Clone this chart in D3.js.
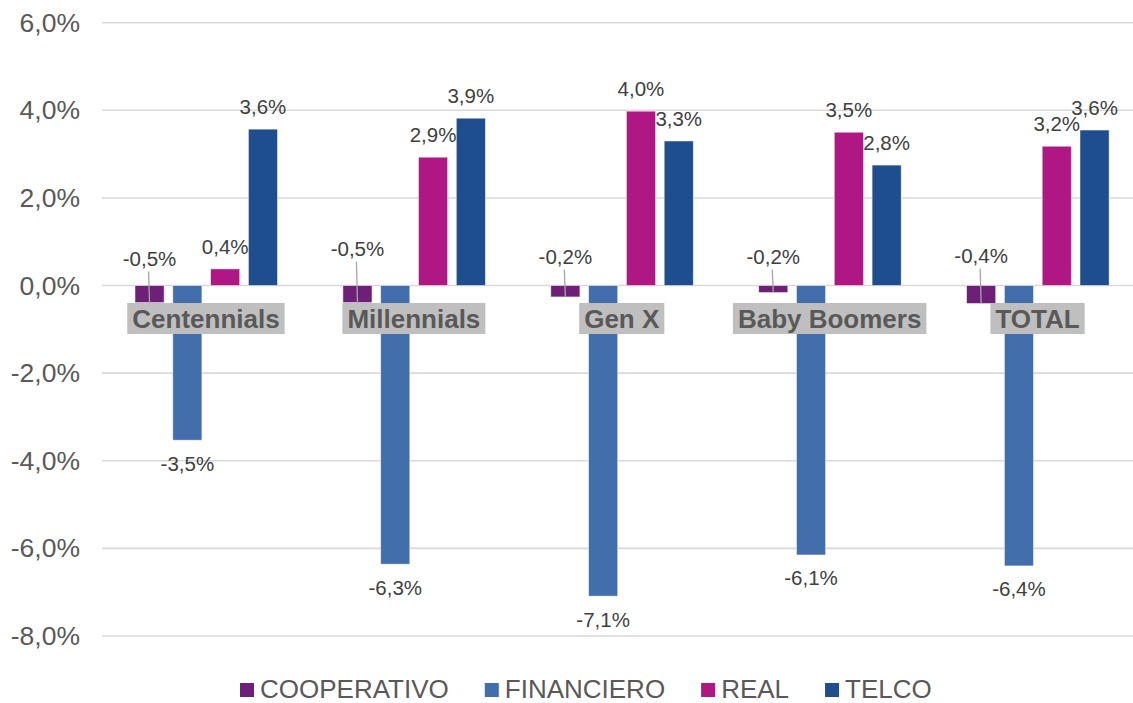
<!DOCTYPE html>
<html>
<head>
<meta charset="utf-8">
<script src="https://cdn.jsdelivr.net/npm/d3@7"></script>
<style>
body { margin: 0; background: #fff; }
svg { font-family: "Liberation Sans", Arial, sans-serif; }
</style>
</head>
<body>
<svg id="chart" width="1133" height="703"></svg>
<script>
// data (percent)
var categories = ["Centennials", "Millennials", "Gen X", "Baby Boomers", "TOTAL"];
var seriesNames = ["COOPERATIVO", "FINANCIERO", "REAL", "TELCO"];
var cooperativo = [-0.39, -0.39, -0.26, -0.16, -0.41];
var financiero = [-3.53, -6.36, -7.09, -6.15, -6.40];
var real = [0.38, 2.93, 3.98, 3.50, 3.18];
var telco = [3.57, 3.82, 3.30, 2.75, 3.55];
// data labels as printed in the chart
var cooperativoLabels = ["-0,5%", "-0,5%", "-0,2%", "-0,2%", "-0,4%"];
var financieroLabels = ["-3,5%", "-6,3%", "-7,1%", "-6,1%", "-6,4%"];
var realLabels = ["0,4%", "2,9%", "4,0%", "3,5%", "3,2%"];
var telcoLabels = ["3,6%", "3,9%", "3,3%", "2,8%", "3,6%"];
var yTicks = [-8, -6, -4, -2, 0, 2, 4, 6];

var colors = ["#6E1F78", "#426EAB", "#AF1785", "#1F4E8F"];
var allValues = [cooperativo, financiero, real, telco];
var allLabels = [cooperativoLabels, financieroLabels, realLabels, telcoLabels];

var svg = d3.select("#chart");

var x0 = d3.scaleBand()
    .domain(categories)
    .range([102, 1141.5]);

var x1 = d3.scaleBand()
    .domain(seriesNames)
    .range([33, 175.5])
    .paddingInner(0.23);

var y = d3.scaleLinear()
    .domain([-8, 6])
    .range([636, 22.7]);

var fmt = function(d) { return d.toFixed(1).replace(".", ",") + "%"; };

// gridlines
svg.append("g")
    .selectAll("line")
    .data(yTicks)
    .enter()
    .append("line")
    .attr("x1", 102)
    .attr("x2", 1133)
    .attr("y1", function(d) { return y(d); })
    .attr("y2", function(d) { return y(d); })
    .attr("stroke", "#d9d9d9")
    .attr("stroke-width", 1.6);

// y axis labels
var yAxis = svg.append("g")
    .attr("transform", "translate(80,0)")
    .call(d3.axisLeft(y).tickValues(yTicks).tickFormat(fmt).tickSize(0).tickPadding(0));
yAxis.select(".domain").remove();
yAxis.selectAll("text")
    .attr("font-size", "26.5px")
    .attr("font-family", "Liberation Sans, Arial, sans-serif")
    .attr("fill", "#595959");

// bars
var rows = [];
categories.forEach(function(c, i) {
    seriesNames.forEach(function(s, j) {
        rows.push({ cat: c, ser: s, si: j, value: allValues[j][i], label: allLabels[j][i], ci: i });
    });
});

var bars = svg.append("g");
bars.selectAll("rect")
    .data(rows)
    .enter()
    .append("rect")
    .attr("x", function(d) { return x0(d.cat) + x1(d.ser); })
    .attr("width", x1.bandwidth())
    .attr("y", function(d) { return y(Math.max(0, d.value)); })
    .attr("height", function(d) { return Math.abs(y(d.value) - y(0)); })
    .attr("fill", function(d) { return colors[d.si]; })
    .attr("stroke", "rgba(255,255,255,0.6)")
    .attr("stroke-width", 0.8);

// cooperativo labels sit above the axis with a leader line
var coopLift = [27, 37, 29, 29, 30];

var cx = function(d) { return x0(d.cat) + x1(d.ser) + x1.bandwidth() / 2; };

var leaders = rows.filter(function(d) { return d.si === 0; });
svg.append("g")
    .selectAll("line")
    .data(leaders)
    .enter()
    .append("line")
    .attr("x1", function(d) { return cx(d) - 1; })
    .attr("x2", function(d) { return cx(d); })
    .attr("y1", function(d) { return y(0) - coopLift[d.ci] + 13; })
    .attr("y2", function(d) { return y(d.value); })
    .attr("stroke", "#a6a6a6")
    .attr("stroke-width", 1.3);

// data labels
svg.append("g")
    .selectAll("text")
    .data(rows)
    .enter()
    .append("text")
    .attr("x", function(d) { return cx(d); })
    .attr("y", function(d) {
        if (d.si === 0) return y(0) - coopLift[d.ci];
        if (d.value < 0) return y(d.value) + 23;
        return y(d.value) - 22.5;
    })
    .attr("dy", "0.36em")
    .attr("text-anchor", "middle")
    .attr("font-size", "20.5px")
    .attr("fill", "#404040")
    .text(function(d) { return d.label; });

// category labels with grey boxes
var catG = svg.append("g")
    .selectAll("g")
    .data(categories)
    .enter()
    .append("g")
    .attr("transform", function(d) { return "translate(" + (x0(d) + x0.bandwidth() / 2) + ",318.5)"; });

catG.append("text")
    .attr("text-anchor", "middle")
    .attr("dy", "0.36em")
    .attr("font-size", "26px")
    .attr("font-weight", "bold")
    .attr("fill", "#595959")
    .text(function(d) { return d; });

catG.each(function() {
    var g = d3.select(this);
    var w = g.select("text").node().getComputedTextLength() + 10;
    g.insert("rect", "text")
        .attr("x", -w / 2)
        .attr("y", -15.5)
        .attr("width", w)
        .attr("height", 31)
        .attr("fill", "#bfbfbf");
});

// legend
var legend = svg.append("g").attr("transform", "translate(240,0)");
var lx = 0;
seriesNames.forEach(function(s, j) {
    var item = legend.append("g").attr("transform", "translate(" + lx + ",0)");
    item.append("rect")
        .attr("x", 0)
        .attr("y", 683)
        .attr("width", 14)
        .attr("height", 14)
        .attr("fill", colors[j]);
    var t = item.append("text")
        .attr("x", 20)
        .attr("y", 697.5)
        .attr("font-size", "26px")
        .attr("fill", "#595959")
        .text(s);
    lx += 20 + t.node().getComputedTextLength() + 36;
});
</script>
</body>
</html>
